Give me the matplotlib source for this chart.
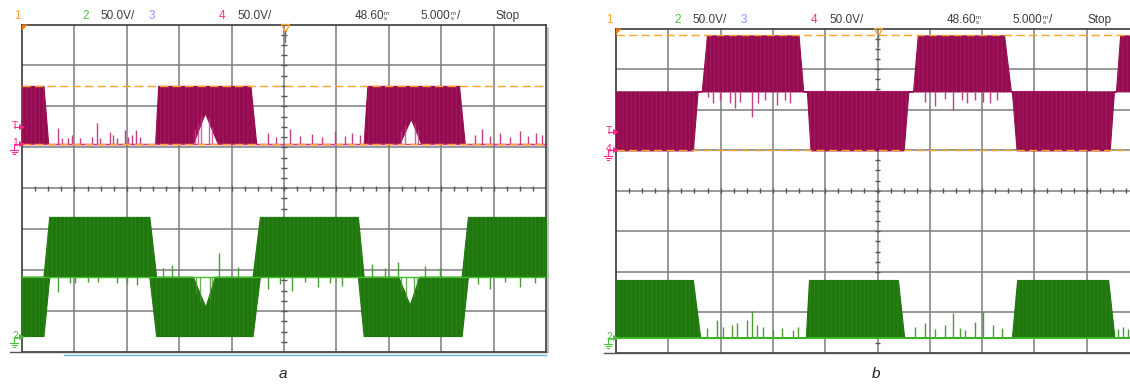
import numpy as np
import matplotlib
matplotlib.use('Agg')
import matplotlib.pyplot as plt
from matplotlib.patches import Polygon

W, H = 1130, 385

# ---------------- data (scope divisions: x 0..10, y -4..4) ----------------
# panel a, channel 4 (magenta)
a4_low, a4_high = 1.08, 2.50
a4_t  = [0.00, 0.41, 0.50, 2.54, 2.60, 3.26, 3.49, 3.74, 4.36, 4.47, 6.52, 6.59, 7.20, 7.42, 7.62, 8.34, 8.45, 10.0]
a4_lo = [1.08, 1.08, 1.08, 1.08, 1.08, 1.08, 1.84, 1.08, 1.08, 1.08, 1.08, 1.08, 1.08, 1.70, 1.08, 1.08, 1.08, 1.08]
a4_hi = [2.50, 2.50, 1.08, 1.08, 2.50, 2.50, 2.50, 2.50, 2.50, 1.08, 1.08, 2.50, 2.50, 2.50, 2.50, 2.50, 1.08, 1.08]
a4_spike_x = [0.69, 0.76, 0.88, 0.95, 1.11, 1.34, 1.43, 1.49, 1.68, 1.74, 1.81, 1.97, 2.02, 2.10, 2.18, 2.25,
              4.69, 4.85, 5.11, 5.31, 5.53, 5.73, 5.97, 6.16, 6.30, 6.45,
              8.65, 8.78, 8.93, 9.12, 9.31, 9.50, 9.66, 9.81, 9.92]
a4_spike_y = [1.47, 1.23, 1.23, 1.30, 1.23, 1.25, 1.59, 1.23, 1.37, 1.30, 1.23, 1.42, 1.25, 1.30, 1.42, 1.25,
              1.35, 1.25, 1.45, 1.28, 1.32, 1.25, 1.40, 1.28, 1.35, 1.30,
              1.30, 1.45, 1.28, 1.35, 1.25, 1.40, 1.28, 1.35, 1.30]
a4_notch_x = [3.30, 3.36, 3.42, 3.56, 3.62, 7.24, 7.30, 7.50, 7.56]
a4_notch_y = [1.45, 1.60, 1.75, 1.72, 1.50, 1.40, 1.55, 1.60, 1.42]

# panel a, channel 2 (green)
a2_mid = -2.16
a2_t  = [0.00, 0.41, 0.52, 2.43, 2.56, 3.26, 3.50, 3.68, 4.40, 4.54, 6.41, 6.52, 7.18, 7.40, 7.58, 8.39, 8.51, 10.0]
a2_lo = [-3.61, -3.61, -2.16, -2.16, -3.61, -3.61, -3.61, -3.61, -3.61, -2.16, -2.16, -3.61, -3.61, -3.61, -3.61, -3.61, -2.16, -2.16]
a2_hi = [-2.16, -2.16, -0.70, -0.70, -2.16, -2.16, -2.90, -2.16, -2.16, -0.70, -0.70, -2.16, -2.16, -2.85, -2.16, -2.16, -0.70, -0.70]
a2_down_x = [0.69, 0.92, 1.01, 1.26, 1.45, 1.81, 2.00, 2.19, 4.69, 4.92, 5.15, 5.40, 5.65, 5.88, 6.11,
             8.70, 8.93, 9.22, 9.50, 9.79]
a2_down_y = [-2.54, -2.32, -2.32, -2.29, -2.30, -2.32, -2.32, -2.37, -2.45, -2.35, -2.50, -2.30, -2.40, -2.32, -2.38,
             -2.35, -2.45, -2.30, -2.40, -2.32]
a2_up_x = [2.69, 2.86, 3.76, 4.12, 6.68, 6.93, 7.18, 7.69, 7.98]
a2_up_y = [-1.95, -1.88, -1.58, -1.92, -1.85, -1.95, -1.80, -1.90, -1.95]
a2_notch_x = [3.32, 3.40, 3.58, 3.63, 7.24, 7.32, 7.48, 7.54]
a2_notch_y = [-2.55, -2.75, -2.70, -2.45, -2.50, -2.70, -2.65, -2.45]

# panel b, channel 4 (magenta)
b4_gnd, b4_mid, b4_top = 0.995, 2.45, 3.83
b4_t  = [0.00, 1.47, 1.56, 1.64, 1.74, 3.49, 3.58, 3.65, 3.72, 5.50, 5.59, 5.68, 5.77, 7.42, 7.55, 7.57, 7.66, 9.44, 9.52, 9.56, 9.64, 10.0]
b4_lo = [0.995, 0.995, 2.45, 2.45, 2.45, 2.45, 2.45, 2.45, 0.995, 0.995, 2.45, 2.45, 2.45, 2.45, 2.45, 2.45, 0.995, 0.995, 2.45, 2.45, 2.45, 2.45]
b4_hi = [2.45, 2.45, 2.45, 2.45, 3.83, 3.83, 2.45, 2.45, 2.45, 2.45, 2.45, 2.45, 3.83, 3.83, 2.45, 2.45, 2.45, 2.45, 2.45, 2.45, 3.83, 3.83]
b4_spike_x = [1.76, 1.85, 1.99, 2.18, 2.28, 2.37, 2.60, 2.72, 2.85, 3.08, 3.23, 3.33,
              5.91, 6.10, 6.29, 6.44, 6.62, 6.71, 6.86, 7.02, 7.15, 7.29]
b4_spike_y = [2.32, 2.16, 2.24, 2.16, 2.04, 2.20, 1.82, 2.16, 2.24, 2.12, 2.24, 2.16,
              2.20, 2.10, 2.25, 1.99, 2.24, 2.17, 2.24, 2.19, 2.17, 2.24]

# panel b, channel 2 (green)
b2_gnd = -3.62
b2_t  = [0.00, 1.47, 1.61, 3.63, 3.69, 5.39, 5.51, 7.57, 7.67, 9.41, 9.53, 10.0]
b2_hi = [-2.20, -2.20, -3.62, -3.62, -2.20, -2.20, -3.62, -3.62, -2.20, -2.20, -3.62, -3.62]
b2_spike_x = [1.74, 1.93, 2.05, 2.22, 2.31, 2.50, 2.60, 2.70, 2.81, 3.00, 3.17, 3.38, 3.48,
              5.72, 5.91, 6.10, 6.29, 6.44, 6.58, 6.67, 6.86, 7.02, 7.21, 7.38,
              9.60, 9.69, 9.79]
b2_spike_y = [-3.39, -3.19, -3.37, -3.32, -3.27, -3.19, -2.97, -3.32, -3.37, -3.44, -3.39, -3.44, -3.37,
              -3.35, -3.25, -3.40, -3.30, -3.02, -3.39, -3.44, -3.24, -2.99, -3.31, -3.39,
              -3.40, -3.35, -3.42]

header = [("1", "#ffa040", 14), ("2", "#4cc23c", 82), ("50.0V/", "#3c3c3c", 100), ("3", "#8898ff", 149),
          ("4", "#ff2a8a", 219), ("50.0V/", "#3c3c3c", 237), ("48.60", "#3c3c3c", 355),
          ("5.000", "#3c3c3c", 420), ("Stop", "#3c3c3c", 496)]

MAG = '#950b4f'
MAG_L = '#c2408a'
MAG_LINE = '#e2308a'
GRN = '#20770e'
GRN_L = '#4a9a36'
GRN_LINE = '#3fc02a'
ORANGE = '#ffa22e'

plt.rcParams['font.family'] = ['Liberation Sans', 'DejaVu Sans']
plt.rcParams['hatch.linewidth'] = 0.6

fig = plt.figure(figsize=(W / 100, H / 100), dpi=100)


def box(x0, y0, x1, y1):
    return [x0 / W, 1 - y1 / H, (x1 - x0) / W, (y1 - y0) / H]


def scope(ax):
    ax.set_xlim(0, 10)
    ax.set_ylim(-4, 4)
    ax.set_xticks([])
    ax.set_yticks([])
    for s in ax.spines.values():
        s.set_color('#3a3a3a')
        s.set_linewidth(1.2)
    for i in range(1, 10):
        ax.axvline(i, color='#7c7c7c', lw=1.1, zorder=1)
    for j in range(-3, 4):
        ax.axhline(j, color='#7c7c7c', lw=1.1, zorder=1)
    xs = np.arange(0.25, 10, 0.25)
    ax.vlines(xs, -0.06, 0.06, color='#555555', lw=1, zorder=1)
    ys = np.arange(-3.75, 4, 0.25)
    ax.hlines(ys, 4.95, 5.05, color='#555555', lw=1, zorder=1)


def trace(ax, t, lo, hi, col, light):
    ax.fill_between(t, lo, hi, color=col, edgecolor=col, lw=0.8, zorder=3)
    # switching texture
    ax.fill_between(t, lo, hi, facecolor='none', edgecolor=light, hatch='||||', lw=0,
                    alpha=0.35, zorder=3)


# ---------------- panel a ----------------
axa = fig.add_axes(box(22, 24.5, 546, 352))
scope(axa)
trace(axa, a4_t, a4_lo, a4_hi, MAG, MAG_L)
axa.vlines(a4_spike_x, a4_low, a4_spike_y, color=MAG_L, lw=1, zorder=3)
axa.vlines(a4_notch_x, a4_low, a4_notch_y, color=MAG_L, lw=1, alpha=0.8, zorder=3)
axa.axhline(a4_low, color=MAG_LINE, lw=1, zorder=3)
trace(axa, a2_t, a2_lo, a2_hi, GRN, GRN_L)
axa.vlines(a2_down_x, a2_mid, a2_down_y, color=GRN_L, lw=1, zorder=3)
axa.vlines(a2_up_x, a2_mid, a2_up_y, color=GRN_L, lw=1, zorder=3)
axa.vlines(a2_notch_x, a2_mid, a2_notch_y, color=GRN_L, lw=1, alpha=0.8, zorder=3)
axa.axhline(a2_mid, color=GRN_LINE, lw=1, zorder=3)
for lv in (a4_high, a4_low):
    axa.axhline(lv, color=ORANGE, lw=1, dashes=(6, 3), zorder=4)

# ---------------- panel b ----------------
axb = fig.add_axes(box(616, 28.5, 1139, 353))
scope(axb)
trace(axb, b4_t, b4_lo, b4_hi, MAG, MAG_L)
axb.vlines(b4_spike_x, b4_mid, b4_spike_y, color=MAG_L, lw=1, zorder=3)
axb.axhline(b4_mid, xmin=0.15, xmax=0.9, color=MAG_LINE, lw=0.8, zorder=2)
trace(axb, b2_t, [b2_gnd] * len(b2_t), b2_hi, GRN, GRN_L)
axb.vlines(b2_spike_x, b2_gnd, b2_spike_y, color=GRN_L, lw=1, zorder=3)
axb.axhline(b2_gnd, color=GRN_LINE, lw=1.2, zorder=3)
for lv in (b4_top, b4_gnd):
    axb.axhline(lv, color=ORANGE, lw=1, dashes=(6, 3), zorder=4)

# ---------------- overlay (pixel coordinates) ----------------
ov = fig.add_axes([0, 0, 1, 1], zorder=10)
ov.set_xlim(0, W)
ov.set_ylim(H, 0)
ov.axis('off')
ov.patch.set_alpha(0)


def marker(x, y, label, col, ground=True):
    ov.text(x - 4, y - 1, label, color=col, fontsize=7.5, ha='right', va='center')
    ov.plot([x], [y], marker='>', color=col, ms=4.5, mew=0)
    ov.plot([x - 8, x - 1], [y, y], color=col, lw=0.8)
    if ground:
        gx = x - 8
        ov.plot([gx, gx], [y, y + 6], color=col, lw=0.8)
        for k, w in enumerate((4, 2.5, 1)):
            ov.plot([gx - w, gx + w], [y + 6 + 2 * k, y + 6 + 2 * k], color=col, lw=0.8)


for dx, dy, gl, gb in ((0, 0, 24.5, 352), (592, 4, 28.5, 353)):
    for txt, col, x in header:
        ov.text(x + dx, 16 + dy, txt, color=col, fontsize=8.5, ha='left', va='center')
    for x in (384, 451):
        ov.text(x + dx, 16 + dy, 'm\ns', color='#3c3c3c', fontsize=4.3, linespacing=0.85,
                ha='left', va='center')
    ov.text(457 + dx, 16 + dy, '/', color='#3c3c3c', fontsize=8.5, ha='left', va='center')
    x0 = 22 + dx + (2 if dx else 0)
    ov.add_patch(Polygon([[x0, gl], [x0 + 6, gl], [x0, gl + 6]], closed=True,
                         color='#f07a10', lw=0))
    cx = x0 + 262.5 if not dx else 877.5
    ov.plot([cx], [gl + 3.5], marker='v', mfc='none', mec=ORANGE, ms=5.5, mew=1)
    ov.plot([cx, cx], [gl + 6, gl + 17], color='#707070', lw=1)
    ov.plot([x0 - 12, x0 + 525], [gb, gb], color='#555555', lw=1)

# channel markers
marker(22, 127, 'T', '#ff2a8a', ground=False)
marker(22, 144, '1', '#ff2a8a')
marker(22, 337, '2', '#4cc23c')
marker(616, 132, 'T', '#ff2a8a', ground=False)
marker(616, 150, '4', '#ff2a8a')
marker(616, 338, '2', '#4cc23c')

# screenshot leftovers
ov.plot([64, 546], [354.5, 354.5], color='#6ab4e0', lw=1)
ov.plot([548, 548], [28, 352], color='#b5b5b5', lw=1.2)

ov.text(283, 374, 'a', fontsize=11, style='italic', ha='center', va='center', color='#222222')
ov.text(876, 374, 'b', fontsize=11, style='italic', ha='center', va='center', color='#222222')

fig.savefig('out.png', dpi=100)
